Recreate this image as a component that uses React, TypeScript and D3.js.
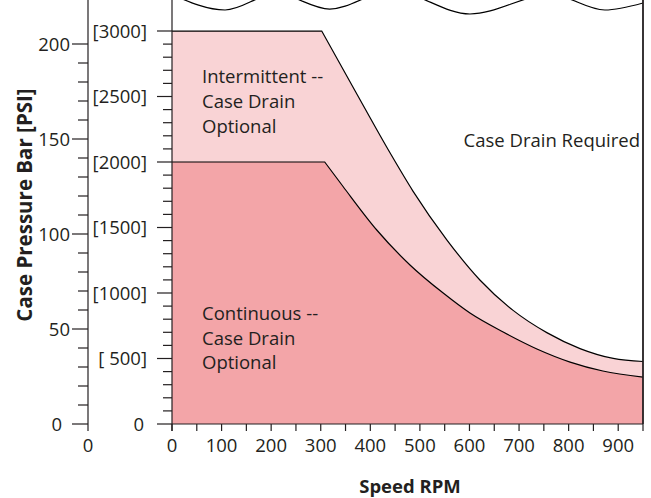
import * as d3 from 'd3';

// speed axis (RPM)
const speedTicks = d3.range(0, 951, 50);
const speedLabels = [0, 100, 200, 300, 400, 500, 600, 700, 800, 900];

// pressure axes
const barLabels = [0, 50, 100, 150, 200];
const barMinorTicks = d3.range(0, 201, 10);
const psiLabels = [0, 500, 1000, 1500, 2000, 2500, 3000];
const psiMinorTicks = d3.range(0, 3001, 100);

// boundary curves (bar vs RPM)
const intermittentRpm = [0, 302, 370, 440, 486, 555, 621, 688, 756, 823, 890, 950];
const intermittentBar = [206.8, 206.8, 175, 142.6, 122.6, 96.7, 75.8, 59.8, 48.1, 39.7, 34.5, 32.9];
const continuousRpm = [0, 308, 345, 413, 480, 547, 601, 668, 736, 803, 869, 950];
const continuousBar = [137.9, 137.9, 125, 102.1, 83.7, 68.9, 58.4, 48.4, 39.5, 32.6, 27.9, 24.7];

// wavy break line at the top (clipped)
const waveRpm = [0, 107, 210, 318, 443, 601, 764, 873, 950];
const waveBar = [226, 217.9, 226.5, 218.4, 228, 215.8, 226, 217.9, 221.6];

const width = 651;
const height = 498;
const ink = '#231F20';
const lightFill = '#F9D3D5';
const darkFill = '#F3A5A8';
const font = '"Open Sans", sans-serif';
const PSI_PER_BAR = 14.5038;

const x = d3.scaleLinear().domain([0, 950]).range([172, 643]);
const y = d3.scaleLinear().domain([0, 200]).range([424, 44]);
const leftAxisX = 88;
const baseY = y(0);

type Pt = [number, number];

function boundary(rpm: number[], bar: number[]) {
  const pts: Pt[] = rpm.map((r, i) => [x(r), y(bar[i])]);
  // flat part is straight, the roll-off is a smooth curve from the corner
  const curve = d3.line().curve(d3.curveMonotoneX)(pts.slice(1)) ?? '';
  return `M${pts[0][0]},${pts[0][1]}L` + curve.slice(1);
}

function regionArea(rpm: number[], bar: number[]) {
  return `${boundary(rpm, bar)}L${x(950)},${baseY}L${x(0)},${baseY}Z`;
}

export default function App() {
  const upper = boundary(intermittentRpm, intermittentBar);
  const lower = boundary(continuousRpm, continuousBar);
  const wave = d3
    .line<number>()
    .x(r => x(r))
    .y((_, i) => y(waveBar[i]))
    .curve(d3.curveMonotoneX)(waveRpm);

  return (
    <svg
      width={width}
      height={height}
      style={{ position: 'absolute', left: 0, top: 0, background: '#fff' }}
      fontFamily={font}
    >
      <defs>
        <clipPath id="plot-clip">
          <rect x={x(0)} y={0} width={x(950) - x(0)} height={baseY} />
        </clipPath>
      </defs>

      {/* regions */}
      <path d={regionArea(intermittentRpm, intermittentBar)} fill={lightFill} />
      <path d={regionArea(continuousRpm, continuousBar)} fill={darkFill} />
      <path d={upper} fill="none" stroke="#000" strokeWidth={1.2} />
      <path d={lower} fill="none" stroke="#000" strokeWidth={1.2} />
      <path d={wave ?? ''} fill="none" stroke="#000" strokeWidth={1.2} clipPath="url(#plot-clip)" />

      {/* frame */}
      <line x1={x(950)} x2={x(950)} y1={0} y2={baseY} stroke={ink} strokeWidth={1.8} />
      <line x1={x(0)} x2={x(950)} y1={baseY} y2={baseY} stroke={ink} strokeWidth={1.2} />

      {/* bar axis */}
      <line x1={leftAxisX} x2={leftAxisX} y1={0} y2={baseY + 7} stroke={ink} strokeWidth={1.2} />
      {barMinorTicks.map(t => (
        <line key={`bm${t}`} x1={leftAxisX - (t % 50 === 0 ? 16 : 10)} x2={leftAxisX} y1={y(t)} y2={y(t)} stroke={ink} strokeWidth={1.2} />
      ))}
      {barLabels.map(t => (
        <text key={`bl${t}`} x={t === 0 ? 62 : 70} y={y(t)} dy="0.36em" textAnchor="end" fontSize={18.5} fill={ink}>
          {t}
        </text>
      ))}
      <text x={leftAxisX} y={452} textAnchor="middle" fontSize={18.5} fill={ink}>0</text>

      {/* psi axis */}
      <line x1={x(0)} x2={x(0)} y1={0} y2={baseY + 7} stroke={ink} strokeWidth={1.2} />
      {psiMinorTicks.map(p => (
        <line key={`pm${p}`} x1={x(0) - (p % 500 === 0 ? 15 : 9)} x2={x(0)} y1={y(p / PSI_PER_BAR)} y2={y(p / PSI_PER_BAR)} stroke={ink} strokeWidth={1.2} />
      ))}
      {psiLabels.map(p => (
        <text key={`pl${p}`} x={p === 0 ? 144 : 147} y={y(p / PSI_PER_BAR)} dy="0.36em" textAnchor="end" fontSize={18.5} fill={ink} style={{ whiteSpace: 'pre' }}>
          {p === 0 ? '0' : `[${String(p).padStart(4, ' ')}]`}
        </text>
      ))}

      {/* speed axis */}
      {speedTicks.map(t => (
        <line key={`st${t}`} x1={x(t)} x2={x(t)} y1={baseY} y2={baseY + 7} stroke={ink} strokeWidth={1.2} />
      ))}
      {speedLabels.map(t => (
        <text key={`sl${t}`} x={x(t)} y={452} textAnchor="middle" fontSize={18.5} fill={ink}>
          {t}
        </text>
      ))}

      {/* titles */}
      <text x={410} y={493} textAnchor="middle" fontSize={18.5} fontWeight="bold" fill={ink}>
        Speed RPM
      </text>
      <text transform="translate(32,205) rotate(-90)" textAnchor="middle" fontSize={20.5} fontWeight="bold" fill={ink}>
        Case Pressure Bar [PSI]
      </text>

      {/* region labels */}
      <g fontSize={18.5} fill={ink}>
        <text x={202} y={83}>Intermittent --</text>
        <text x={202} y={108}>Case Drain</text>
        <text x={202} y={133}>Optional</text>
        <text x={202} y={320}>Continuous --</text>
        <text x={202} y={345}>Case Drain</text>
        <text x={202} y={369}>Optional</text>
        <text x={640} y={147} textAnchor="end">Case Drain Required</text>
      </g>
    </svg>
  );
}
